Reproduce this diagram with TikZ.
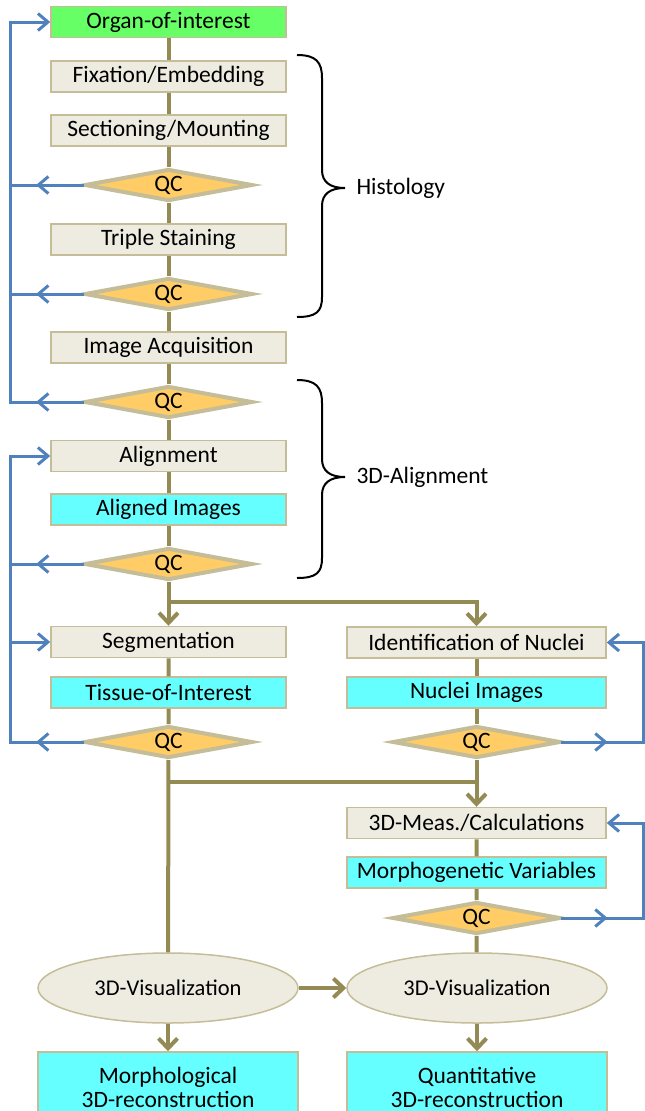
\documentclass[tikz,border=0pt]{standalone}
\usepackage{fontspec}
\setmainfont{Carlito}
\usepackage{xcolor}
\usepackage{tikz}
\usetikzlibrary{shapes.geometric, arrows.meta, decorations.markings}

\definecolor{stem}{HTML}{948A54}
\definecolor{boxfill}{HTML}{EEECE1}
\definecolor{boxline}{HTML}{C4BD97}
\definecolor{qcfill}{HTML}{FFCC66}
\definecolor{resfill}{HTML}{66FFFF}
\definecolor{startfill}{HTML}{66FF66}
\definecolor{loopblue}{HTML}{4F81BD}

\begin{document}
\begin{tikzpicture}[x=1pt, y=-1pt,
    font=\fontsize{23.5}{24}\selectfont,
    stepbox/.style={draw=boxline, line width=1.5pt, fill=boxfill, minimum width=235pt, minimum height=31pt, inner sep=0pt},
    widebox/.style={stepbox, minimum width=259pt},
    result/.style={fill=resfill},
    qc/.style={diamond, draw=boxline, line width=4pt, line join=miter, fill=qcfill, aspect=5, minimum width=168pt, minimum height=32pt, inner sep=0pt},
    vis/.style={ellipse, draw=boxline, line width=1.5pt, fill=boxfill, minimum width=260pt, minimum height=70pt, font=\fontsize{22.5}{23}\selectfont},
    flow/.style={stem, line width=4pt},
    flowarrow/.style={flow, -{Straight Barb[length=10pt, width=19pt]}},
    fb/.style={loopblue, line width=3pt, line cap=rect},
    fbarrow/.style={fb, -{Straight Barb[length=10pt, width=17pt]}},
    fbmid/.style={fb, postaction={decorate}, decoration={markings, mark=at position #1 with {\arrow{Straight Barb[length=10pt, width=17pt]}}}},
]
    \clip (0,0) rectangle (645,1111);

    % left column
    \node[stepbox, fill=startfill] (organ) at (168.5,22) {Organ-of-interest};
    \node[stepbox] (fix) at (168.5,76.5) {Fixation/Embedding};
    \node[stepbox] (sect) at (168.5,130.5) {Sectioning/Mounting};
    \node[qc] (qc1) at (168.5,185) {QC};
    \node[stepbox] (stain) at (168.5,239.5) {Triple Staining};
    \node[qc] (qc2) at (168.5,294) {QC};
    \node[stepbox] (acq) at (168.5,347.5) {Image Acquisition};
    \node[qc] (qc3) at (168.5,402) {QC};
    \node[stepbox] (align) at (168.5,456) {Alignment};
    \node[stepbox, result] (aligned) at (168.5,509.5) {Aligned Images};
    \node[qc] (qc4) at (168.5,564) {QC};
    \node[stepbox] (seg) at (168.5,642) {Segmentation};
    \node[stepbox, result] (tissue) at (168.5,692.5) {Tissue-of-Interest};
    \node[qc] (qc5) at (168.5,742) {QC};

    % right column
    \node[widebox] (ident) at (476.5,642.5) {Identification of Nuclei};
    \node[widebox, result] (nuclei) at (476.5,692.5) {Nuclei Images};
    \node[qc] (qc6) at (476.5,742) {QC};
    \node[widebox] (meas) at (476.5,823) {3D-Meas./Calculations};
    \node[widebox, result] (morph) at (476.5,872.5) {Morphogenetic Variables};
    \node[qc] (qc7) at (476.5,918) {QC};

    % results
    \node[vis] (vis1) at (168,988) {3D-Visualization};
    \node[vis] (vis2) at (477,988) {3D-Visualization};
    \node[widebox, result, minimum width=260pt, minimum height=70pt, align=center] (rec1) at (168,1087) {Morphological\\3D-reconstruction};
    \node[widebox, result, minimum width=260pt, minimum height=70pt, align=center] (rec2) at (477,1087) {Quantitative\\3D-reconstruction};

    % main flow
    \draw[flow] (organ) -- (fix) -- (sect) -- (qc1) -- (stain) -- (qc2) -- (acq) -- (qc3) -- (align) -- (aligned) -- (qc4);
    \coordinate (split) at (168.5,602);
    \draw[flowarrow] (qc4) -- (split) -- (seg);
    \draw[flowarrow] (split) -- (split -| ident) -- (ident);
    \draw[flow] (seg) -- (tissue) -- (qc5) -- (vis1);
    \draw[flow] (ident) -- (nuclei) -- (qc6);
    \coordinate (merge) at (476.5,782);
    \draw[flowarrow] (qc6) -- (merge) -- (meas);
    \draw[flow] (merge) -- (merge -| qc5);
    \draw[flow] (meas) -- (morph) -- (qc7) -- (vis2);
    \draw[flowarrow] (vis1) -- (vis2);
    \draw[flowarrow] (vis1) -- (rec1);
    \draw[flowarrow] (vis2) -- (rec2);

    % feedback loops
    \coordinate (railA) at (10,22);
    \coordinate (railB) at (10,456);
    \coordinate (railC) at (643,642.5);
    \coordinate (railD) at (643,823);
    \draw[fbarrow] (qc3 -| railA) -- (railA) -- (organ);
    \draw[fbmid=0.64] (qc1) -- (qc1 -| railA);
    \draw[fbmid=0.64] (qc2) -- (qc2 -| railA);
    \draw[fbmid=0.64] (qc3) -- (qc3 -| railA);
    \draw[fbarrow] (qc5 -| railB) -- (railB) -- (align);
    \draw[fbarrow] (seg -| railB) -- (seg);
    \draw[fbmid=0.64] (qc4) -- (qc4 -| railB);
    \draw[fbmid=0.64] (qc5) -- (qc5 -| railB);
    \draw[fbarrow] (qc6 -| railC) -- (railC) -- (ident);
    \draw[fbmid=0.56] (qc6) -- (qc6 -| railC);
    \draw[fbarrow] (qc7 -| railD) -- (railD) -- (meas);
    \draw[fbmid=0.56] (qc7) -- (qc7 -| railD);

    % braces
    \draw[line width=2pt] (297,55) .. controls (316,55) and (322,62) .. (322,78) -- (322,170)
        .. controls (322,182) and (330,188) .. (345,188) .. controls (330,188) and (322,194) .. (322,206)
        -- (322,297) .. controls (322,312) and (316,317) .. (297,317);
    \node[anchor=west] (histo) at (353,188) {Histology};
    \draw[line width=2pt] (297,380) .. controls (316,380) and (322,387) .. (322,403) -- (322,459)
        .. controls (322,471) and (330,477) .. (345,477) .. controls (330,477) and (322,483) .. (322,495)
        -- (322,558) .. controls (322,573) and (316,578) .. (297,578);
    \node[anchor=west] (align3d) at (353,477) {3D-Alignment};
\end{tikzpicture}
\end{document}
